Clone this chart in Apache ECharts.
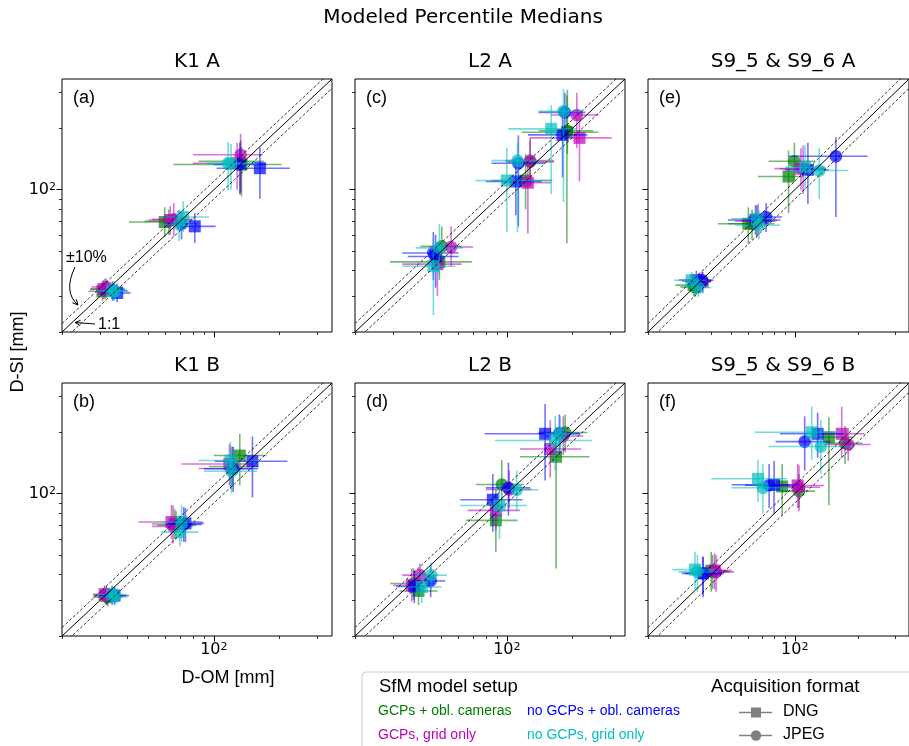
<!DOCTYPE html>
<html><head><meta charset="utf-8">
<script src="https://cdn.jsdelivr.net/npm/echarts@6/dist/echarts.min.js"></script>
<style>html,body{margin:0;padding:0;background:#fff}#c{width:909px;height:746px}</style>
</head><body><div id="c"></div><script>
// ---- data: [setup, format, x, y, xLow, xHigh, yLow, yHigh] (mm) ----
const panelA = [
 ['GO','DNG',30.7,31.7,26.5,38,28.5,35.5],['GO','DNG',59.4,69.4,40.7,66.1,58.6,82],['GO','DNG',134,133,65,205,92.7,162],
 ['GO','JPEG',31.5,32.5,27,39,29,36.5],['GO','JPEG',62,70,48,75,60,80],['GO','JPEG',133,138,85,170,98,175],
 ['GG','DNG',31,32.5,27,37,29,36],['GG','DNG',63,71,50,78,60,83],['GG','DNG',128,135,80,168,100,170],
 ['GG','JPEG',32,33.3,27.3,38,29.5,36.7],['GG','JPEG',65.4,71.5,52,80,59,86],['GG','JPEG',132.8,148.5,80.3,168,95.6,188],
 ['NO','DNG',35.9,31.1,30,41.4,28.1,34.5],['NO','DNG',81.7,66.1,69.7,102,54.8,76.8],['NO','DNG',163,127.6,103,224,90.3,161.8],
 ['NO','JPEG',34.3,32,29.5,40,28.5,35.5],['NO','JPEG',71,68,60,84,57,79],['NO','JPEG',131.7,133,100,175,95,170],
 ['NG','DNG',34,32,29,39.5,29,35],['NG','DNG',72.2,73.4,60,95,62,88],['NG','DNG',120,134,95,160,100,168],
 ['NG','JPEG',34.9,31.7,30,40.5,28.5,35],['NG','JPEG',69.2,67.6,58,82,56,80],['NG','JPEG',116.4,135,92.5,157,99,171]
];
const panelB = [
 ['GO','DNG',32,31.5,27.8,38,28.5,35],['GO','DNG',66,71,52,82,60,84],['GO','DNG',131.7,154,100,175,110,197],
 ['GO','JPEG',32.5,31,28,38,28,34.5],['GO','JPEG',67,70,55,83,60,82],['GO','JPEG',122,136,95,160,108,170],
 ['GG','DNG',31.4,32.1,27.8,37,29,35.5],['GG','DNG',63.8,72.6,45,89,60,88],['GG','DNG',118,140,71,151,110,175],
 ['GG','JPEG',32,31.8,28,37.5,28.5,35],['GG','JPEG',64.9,69.1,52,80,56.9,87.6],['GG','JPEG',120,133,85,150,105,170],
 ['NO','DNG',34.9,31.6,30,40.7,28.5,35],['NO','DNG',74,71.5,62,90,58,85],['NO','DNG',150.6,144.4,101,218,96,191],
 ['NO','JPEG',34,31.5,29.5,39.5,28.5,35],['NO','JPEG',72.7,70.7,60,88,58,86],['NO','JPEG',122.7,132.6,90,160,102,170],
 ['NG','DNG',34,32,29,39.5,28.8,35.5],['NG','DNG',71,72.6,58,86,58,88],['NG','DNG',119.3,145.6,85,160,108,180],
 ['NG','JPEG',34.9,31.2,30,40,28.3,34.5],['NG','JPEG',69.7,64.8,57,85,55,78],['NG','JPEG',120.6,129,90,158,100,165]
];
const panelC = [
 ['GO','DNG',48.9,44.2,29,69,36,56],['GO','DNG',122,111,85,162,80,150],['GO','DNG',189,191.6,117,264,54.6,290],
 ['GO','JPEG',50.2,52.7,40,62,43,66],['GO','JPEG',128,137,100,165,108,175],['GO','JPEG',190,195,140,250,150,310],
 ['GG','DNG',47.9,43.1,33,62,30,55],['GG','DNG',125,108.2,95,160,60.9,145],['GG','DNG',216,179.8,128,304,110,230],
 ['GG','JPEG',55.4,52.3,44,70,42,66],['GG','JPEG',128,139,98,165,105,180],['GG','JPEG',210,233,160,265,160,300],
 ['NO','DNG',47,47,35,60,33,60],['NO','DNG',110,109.8,80,145,75,140],['NO','DNG',180.5,186,125,235,115,230],
 ['NO','JPEG',45.9,48.9,33,60,36,62],['NO','JPEG',113,135,85,150,66,185],['NO','JPEG',185,240,140,230,175,300],
 ['NG','DNG',45.9,42.1,33,58,24.2,58],['NG','DNG',100,111,71.5,161,62,160.7],['NG','DNG',160,199,101.7,210,95,260],
 ['NG','JPEG',48.9,51.8,38,63,38,68],['NG','JPEG',112,139,85,140,62,170],['NG','JPEG',182.3,242.8,140,225,87,312]
];
const panelD = [
 ['GO','DNG',39.2,33.3,32,48,28.4,40],['GO','DNG',89,74,65,112,51.8,105],['GO','DNG',168.6,152,115,240,42.9,212],
 ['GO','JPEG',37.2,36.2,29,46,30,43],['GO','JPEG',94.8,111,72,120,85,146.7],['GO','JPEG',185.6,200,140,235,160,245],
 ['GG','DNG',36.5,35.5,30,44,29.5,43],['GG','DNG',89,82.8,66,115,66,100],['GG','DNG',158.5,166,115,220,120,230],
 ['GG','JPEG',39.8,39.8,33,48,33,45.4],['GG','JPEG',102.5,105,80,130,85,130],['GG','JPEG',182,192,150,225,155,240],
 ['NO','DNG',37.5,35,31,45,29,42],['NO','DNG',86.2,93.4,61,118,65,125],['NO','DNG',150,197,79,218,116,276],
 ['NO','JPEG',44.6,37.3,38,52,31,44],['NO','JPEG',101.7,107,80,128,78,142],['NO','JPEG',174.5,198,140,215,155,245],
 ['NG','DNG',40.6,34.8,34,50,29,42],['NG','DNG',92.5,87.6,61,123.6,60,115],['NG','DNG',167,182.5,88.3,246,130,240],
 ['NG','JPEG',44.8,39.8,38,53,34,46],['NG','JPEG',111,104.6,90,140,82,130],['NG','JPEG',176,197,150,210,160,240]
];
const panelE = [
 ['GO','DNG',33,34,27,39,30,38],['GO','DNG',60.1,68.1,43,80,54.4,82],['GO','DNG',93.4,116.2,66.8,109.6,76.8,156],
 ['GO','JPEG',33.5,33.3,28.5,39,29.8,37],['GO','JPEG',62.6,68.1,48,75,57,80],['GO','JPEG',99.6,138.1,75,125,110,170],
 ['GG','DNG',35,35.5,29,40,31,39],['GG','DNG',66,70,52,80,58,84],['GG','DNG',107,127,80,140,100,160],
 ['GG','JPEG',36.5,35.3,30,40,31,39.5],['GG','JPEG',67,70.5,55,82,60,85.4],['GG','JPEG',109.6,126.7,85,140,95,165],
 ['NO','DNG',34,36,28,40,31,40],['NO','DNG',65,71,48,85.5,60,84],['NO','DNG',115.5,125.3,90,145,85,170],
 ['NO','JPEG',36.2,35.9,30,41,31.5,39.5],['NO','JPEG',73,73.4,60,87,62,86],['NO','JPEG',157,146.1,93.4,222,73.4,181],
 ['NG','DNG',32.3,35.9,26.6,38,31,39.5],['NG','DNG',66,72,50,80,60,84],['NG','DNG',112,129,90,140,100,165],
 ['NG','JPEG',34.7,33.1,29,40,29.8,37],['NG','JPEG',67.5,66.9,52,85,57,79],['NG','JPEG',130.8,124.4,93.4,180,90,160]
];
const panelF = [
 ['GO','DNG',40,41.8,33,48,33,51.8],['GO','DNG',87.1,108.6,66,112,78,140],['GO','DNG',145.4,189.4,110,190,87.7,237.6],
 ['GO','JPEG',40.6,41.3,34,49,34,50],['GO','JPEG',104.7,103,85,125,85,125],['GO','JPEG',173.5,177,140,210,140,215],
 ['GG','DNG',41.5,42,35,50,34,51],['GG','DNG',103.2,109.8,81,138,85,140],['GG','DNG',167.3,197,135,215,150,268],
 ['GG','JPEG',42.2,41.3,35,51.3,33,50],['GG','JPEG',104.7,107.7,85,132,82,138],['GG','JPEG',179.8,174.5,138,230,145,210],
 ['NO','DNG',36.5,40.6,29,46,32,49],['NO','DNG',79.7,110.7,50,105,80,145],['NO','DNG',128.5,197,85,170,150,250],
 ['NO','JPEG',36.6,40.6,30,45,31,49],['NO','JPEG',75.5,110,58,95,85,140],['NO','JPEG',111.5,180.4,81,148,130,240],
 ['NG','DNG',33.5,42.4,26.1,42,34,51.8],['NG','DNG',66.8,118.4,40,92,91,146.7],['NG','DNG',120.5,200.4,64.4,164.7,147,268],
 ['NG','JPEG',34.4,41.3,28,43,33,50],['NG','JPEG',70.5,107,50,95,80,140],['NG','JPEG',133,170.6,75,190,125,230]
];
const panelTitles = ['K1 A','K1 B','L2 A','L2 B','S9_5 & S9_6 A','S9_5 & S9_6 B'];
const panelLetters = ['(a)','(b)','(c)','(d)','(e)','(f)'];
const setupCodes = ['GO','GG','NO','NG'];
const setupNames = ['GCPs + obl. cameras','GCPs, grid only','no GCPs + obl. cameras','no GCPs, grid only'];
const formats = ['DNG','JPEG'];
const minorTicks = [20,30,40,50,60,70,80,90,200,300];
const majorTicks = [100];
const axisRange = [20, 350];
const refRatios = [1, 1.1, 0.9];

// ---- style / layout ----
const setupColors = {GO:'#008000', GG:'#bf00bf', NO:'#0000ff', NG:'#00bfbf'};
const colLeft = [62, 355, 648], rowTop = [79, 383], GW = 270, GH = 253;
const panelPos = [[0,0],[1,0],[0,1],[1,1],[0,2],[1,2]];
const panels = [panelA, panelB, panelC, panelD, panelE, panelF];
const SANS = '"Liberation Sans", Arial, sans-serif';
function rgba(hex, a){const n=parseInt(hex.slice(1),16);return `rgba(${n>>16},${(n>>8)&255},${n&255},${a})`;}

const grid=[], xAxis=[], yAxis=[], series=[], graphics=[];
panels.forEach((rows, p) => {
  const [r, c] = panelPos[p];
  grid.push({left: colLeft[c], top: rowTop[r], width: GW, height: GH, show: true,
    borderColor: '#000', borderWidth: 1, backgroundColor: 'transparent'});
  const base = {type:'log', logBase:10, gridIndex:p, min:axisRange[0], max:axisRange[1],
    axisLine:{show:false}, splitLine:{show:false}};
  const lab = {color:'#000', customValues: majorTicks, formatter:()=> '{b|10}{s|2}',
    rich:{b:{fontFamily:'DejaVu Sans', fontSize:16, color:'#000'},
          s:{fontFamily:'DejaVu Sans', fontSize:11, lineHeight:8, verticalAlign:'top', color:'#000'}}};
  xAxis.push(Object.assign({}, base, {position:'bottom',
    axisTick:{show:true, customValues:minorTicks, length:3, lineStyle:{color:'#000', width:0.8}}, axisLabel:{show:false}}));
  xAxis.push(Object.assign({}, base, {position:'bottom',
    axisTick:{show:true, customValues:majorTicks, length:5.5, lineStyle:{color:'#000', width:1}},
    axisLabel:Object.assign({show: r===1, margin:6}, lab)}));
  yAxis.push(Object.assign({}, base, {position:'left',
    axisTick:{show:true, customValues:minorTicks, length:3, lineStyle:{color:'#000', width:0.8}}, axisLabel:{show:false}}));
  yAxis.push(Object.assign({}, base, {position:'left',
    axisTick:{show:true, customValues:majorTicks, length:5.5, lineStyle:{color:'#000', width:1}},
    axisLabel:Object.assign({show: c===0, margin:6}, lab)}));

  setupCodes.forEach(code => {
    formats.forEach(fmt => {
      const col = setupColors[code];
      const data = rows.filter(d => d[0]===code && d[1]===fmt).map(d => d.slice(2));
      series.push({type:'custom', xAxisIndex:2*p, yAxisIndex:2*p, silent:true, clip:true, data,
        renderItem:(params, api) => {
          const x=api.value(0), y=api.value(1);
          const pt=api.coord([x,y]);
          const xl=api.coord([api.value(2),y]), xh=api.coord([api.value(3),y]);
          const yl=api.coord([x,api.value(4)]), yh=api.coord([x,api.value(5)]);
          const bar={stroke:rgba(col,0.55), lineWidth:1.6};
          const fill=rgba(col,0.7);
          const marker = fmt==='DNG'
            ? {type:'rect', shape:{x:pt[0]-6,y:pt[1]-6,width:12,height:12}, style:{fill}}
            : {type:'circle', shape:{cx:pt[0],cy:pt[1],r:6.3}, style:{fill}};
          return {type:'group', children:[
            {type:'line', shape:{x1:xl[0],y1:pt[1],x2:xh[0],y2:pt[1]}, style:bar},
            {type:'line', shape:{x1:pt[0],y1:yl[1],x2:pt[0],y2:yh[1]}, style:bar},
            marker]};
        }});
    });
  });
  refRatios.forEach((k, i) => {
    series.push({type:'line', xAxisIndex:2*p, yAxisIndex:2*p, silent:true, clip:true, symbol:'none',
      data: axisRange.map(v => [v, v*k]),
      lineStyle:{color:'#000', width: i===0?1:0.8, type: i===0?'solid':[3,2]}});
  });
  graphics.push({type:'text', x: colLeft[c]+GW/2, y: rowTop[r]-17,
    style:{text:panelTitles[p], font:'20px "DejaVu Sans"', fill:'#000', align:'center', verticalAlign:'middle', textAlign:'center', textVerticalAlign:'middle'}});
  graphics.push({type:'text', x: colLeft[c]+11, y: rowTop[r]+19,
    style:{text:panelLetters[p], font:'18px '+SANS, fill:'#000', align:'left', verticalAlign:'middle', textAlign:'left', textVerticalAlign:'middle'}});
});

function txt(text, x, y, size, color, align, family, rot){
  return {type:'text', x, y, rotation: rot||0,
    style:{text, font: size+'px '+(family||SANS), fill: color||'#000', align: align||'left', verticalAlign:'middle', textAlign: align||'left', textVerticalAlign:'middle'}};
}
function arrowHead(tip, from){
  const dx=tip[0]-from[0], dy=tip[1]-from[1], L=Math.hypot(dx,dy), ux=dx/L, uy=dy/L, a=0.45, s=6;
  const p1=[tip[0]-s*(ux*Math.cos(a)-uy*Math.sin(a)), tip[1]-s*(uy*Math.cos(a)+ux*Math.sin(a))];
  const p2=[tip[0]-s*(ux*Math.cos(a)+uy*Math.sin(a)), tip[1]-s*(uy*Math.cos(a)-ux*Math.sin(a))];
  return {type:'polyline', shape:{points:[p1, tip, p2]}, style:{stroke:'#000', lineWidth:1, fill:null}};
}
graphics.push(txt('Modeled Percentile Medians', 463, 18, 20, '#000', 'center', '"DejaVu Sans"'));
graphics.push(txt('D-OM [mm]', 228, 678, 18, '#000', 'center'));
graphics.push(txt('D-SI [mm]', 18, 352, 18, '#000', 'center', null, Math.PI/2));
// annotations in panel (a)
graphics.push(txt('\u00b110%', 66, 258, 16, '#000', 'left'));
graphics.push({type:'bezierCurve', shape:{x1:75,y1:267,cpx1:63,cpy1:292,x2:78,y2:305}, style:{stroke:'#000', lineWidth:1, fill:null}});
graphics.push(arrowHead([78,305],[66,292]));
graphics.push(txt('1:1', 98, 325, 16, '#000', 'left'));
graphics.push({type:'line', shape:{x1:95,y1:324,x2:75,y2:322.5}, style:{stroke:'#000', lineWidth:1}});
graphics.push(arrowHead([75,322.5],[95,324]));
// legend box
graphics.push({type:'rect', shape:{x:362,y:672,width:620,height:120,r:4}, style:{fill:'#fff', stroke:'#cccccc', lineWidth:1}, z:-1});
graphics.push(txt('SfM model setup', 379, 687, 18.5));
graphics.push(txt(setupNames[0], 378, 711, 14, setupColors.GO));
graphics.push(txt(setupNames[2], 527, 711, 14, setupColors.NO));
graphics.push(txt(setupNames[1], 378, 735, 14, setupColors.GG));
graphics.push(txt(setupNames[3], 527, 735, 14, setupColors.NG));
graphics.push(txt('Acquisition format', 711, 687, 18.7));
graphics.push({type:'line', shape:{x1:739,y1:712.5,x2:772,y2:712.5}, style:{stroke:'#808080', lineWidth:1.5}});
graphics.push({type:'rect', shape:{x:751,y:707.5,width:10,height:10}, style:{fill:'#808080'}});
graphics.push(txt(formats[0], 783, 712, 16));
graphics.push({type:'line', shape:{x1:739,y1:735.5,x2:772,y2:735.5}, style:{stroke:'#808080', lineWidth:1.5}});
graphics.push({type:'circle', shape:{cx:756,cy:735.5,r:5.2}, style:{fill:'#808080'}});
graphics.push(txt(formats[1], 783, 735, 16));

const chart = echarts.init(document.getElementById('c'), null, {renderer:'canvas'});
chart.setOption({animation:false, backgroundColor:'#fff', grid, xAxis, yAxis, series,
  graphic:{elements:graphics}});
</script></body></html>
